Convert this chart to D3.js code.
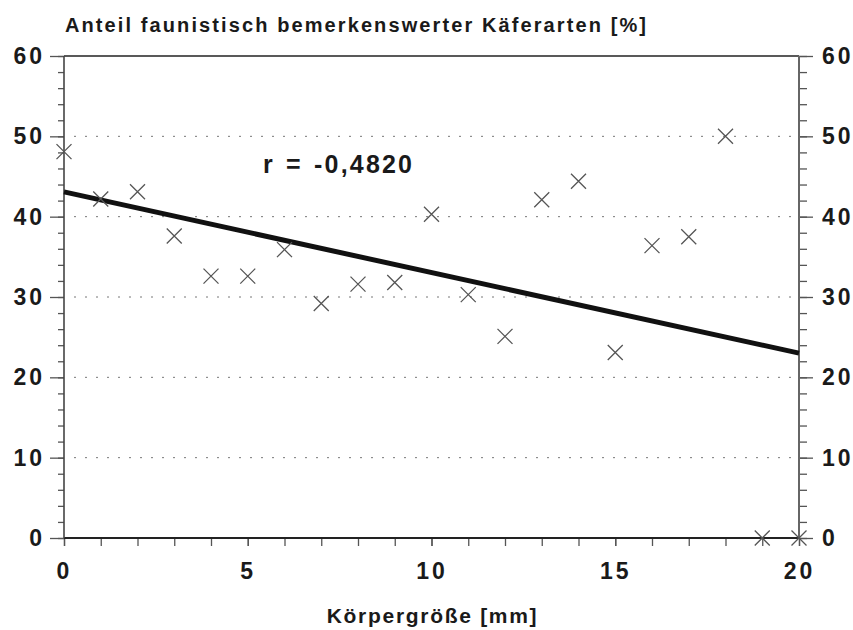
<!DOCTYPE html>
<html>
<head>
<meta charset="utf-8">
<script src="https://cdn.jsdelivr.net/npm/d3@7"></script>
<style>
  body { margin: 0; background: #fff; }
  text { font-family: "Liberation Sans", Arial, Helvetica, sans-serif; font-weight: bold; fill: #1a1a1a; }
</style>
</head>
<body>
<script>
// Daten: Körpergröße [mm] und Anteil bemerkenswerter Arten [%]
const groesse = [0, 1, 2, 3, 4, 5, 6, 7, 8, 9, 10, 11, 12, 13, 14, 15, 16, 17, 18, 19, 20];
const anteil  = [48.1, 42.2, 43.1, 37.6, 32.6, 32.6, 35.9, 29.2, 31.6, 31.8, 40.3,
                 30.3, 25.1, 42.1, 44.4, 23.1, 36.4, 37.5, 50.0, 0, 0];
const yTicks = [0, 10, 20, 30, 40, 50, 60];
const xTicks = [0, 5, 10, 15, 20];
const rText = "r = -0,4820";

// Abmessungen
const W = 853, H = 630;
const margin = {top: 56, right: 54, bottom: 92, left: 64};
const width  = W - margin.left - margin.right,
      height = H - margin.top - margin.bottom;

const svg = d3.select("body").append("svg")
  .attr("width", W)
  .attr("height", H);

const g = svg.append("g")
  .attr("transform", "translate(" + margin.left + "," + margin.top + ")");

const x = d3.scaleLinear().domain([0, 20]).range([0, width]);
const y = d3.scaleLinear().domain([0, 60]).range([height, 0]);

// Gitterlinien (gepunktet)
g.selectAll(".grid")
  .data(yTicks.filter(t => t > 0 && t < 60))
  .enter().append("line")
  .attr("x1", 10).attr("x2", width - 4)
  .attr("y1", d => y(d)).attr("y2", d => y(d))
  .style("stroke", "#777")
  .style("stroke-width", 1)
  .style("stroke-dasharray", "2,9");

// Achsen mit Hilfsstrichen
function axisMinor(axis, scale, ticks, size) {
  return axis(scale).tickValues(ticks).tickSize(size).tickFormat("");
}
g.append("g")
  .call(axisMinor(d3.axisLeft, y, d3.range(0, 61, 2), 6));
g.append("g")
  .call(d3.axisLeft(y).tickValues(yTicks).tickSize(14).tickPadding(5));

g.append("g").attr("transform", "translate(" + width + ",0)")
  .call(axisMinor(d3.axisRight, y, d3.range(0, 61, 2), 8));
g.append("g").attr("transform", "translate(" + width + ",0)")
  .call(d3.axisRight(y).tickValues(yTicks).tickSize(14).tickPadding(9));

g.append("g").attr("transform", "translate(0," + height + ")")
  .call(d3.axisBottom(x).tickValues(groesse).tickSize(8).tickFormat(""));
g.append("g").attr("transform", "translate(0," + height + ")")
  .call(d3.axisBottom(x).tickValues(xTicks).tickSize(8).tickPadding(17));

g.selectAll(".domain").remove();
g.selectAll(".tick line").style("stroke", "#555").style("stroke-width", 1.3);
g.selectAll(".tick text")
  .style("font-size", "23px")
  .style("font-family", "'Liberation Sans', Arial, sans-serif")
  .style("font-weight", "bold")
  .style("fill", "#1a1a1a")
  .style("letter-spacing", "3px");

// Rahmen
g.append("line").attr("x1", 0).attr("x2", width).attr("y1", 0).attr("y2", 0)
  .style("stroke", "#222").style("stroke-width", 1.5);
g.append("line").attr("x1", 0).attr("x2", width).attr("y1", height).attr("y2", height)
  .style("stroke", "#222").style("stroke-width", 1.8);
g.append("line").attr("x1", 0).attr("x2", 0).attr("y1", 0).attr("y2", height)
  .style("stroke", "#444").style("stroke-width", 1.6);
g.append("line").attr("x1", width).attr("x2", width).attr("y1", 0).attr("y2", height)
  .style("stroke", "#666").style("stroke-width", 2);

// Regressionsgerade (kleinste Quadrate)
const mx = d3.mean(groesse), my = d3.mean(anteil);
const slope = d3.sum(groesse, (v, i) => (v - mx) * (anteil[i] - my)) /
              d3.sum(groesse, v => (v - mx) * (v - mx));
const icpt = my - slope * mx;
g.append("line")
  .attr("x1", x(0)).attr("y1", y(icpt))
  .attr("x2", x(20)).attr("y2", y(icpt + slope * 20))
  .style("stroke", "#111")
  .style("stroke-width", 5);

// Punkte als Kreuze
const s = 7.5;
g.selectAll(".pt")
  .data(groesse.map((v, i) => [v, anteil[i]]))
  .enter().append("path")
  .attr("class", "pt")
  .attr("transform", d => "translate(" + x(d[0]) + "," + y(d[1]) + ")")
  .attr("d", "M" + (-s) + "," + (-s) + "L" + s + "," + s + "M" + (-s) + "," + s + "L" + s + "," + (-s))
  .style("stroke", "#555")
  .style("stroke-width", 1.3)
  .style("fill", "none");

// Beschriftungen
svg.append("text")
  .attr("x", 65).attr("y", 32)
  .style("font-size", "20px")
  .style("letter-spacing", "2.1px")
  .text("Anteil faunistisch bemerkenswerter Käferarten [%]");

svg.append("text")
  .attr("x", 263).attr("y", 173)
  .style("font-size", "25px")
  .style("letter-spacing", "2.2px")
  .style("word-spacing", "2px")
  .text(rText);

svg.append("text")
  .attr("x", margin.left + width / 2 + 1).attr("y", 623)
  .attr("text-anchor", "middle")
  .style("font-size", "21px")
  .style("letter-spacing", "1.7px")
  .text("Körpergröße [mm]");
</script>
</body>
</html>
